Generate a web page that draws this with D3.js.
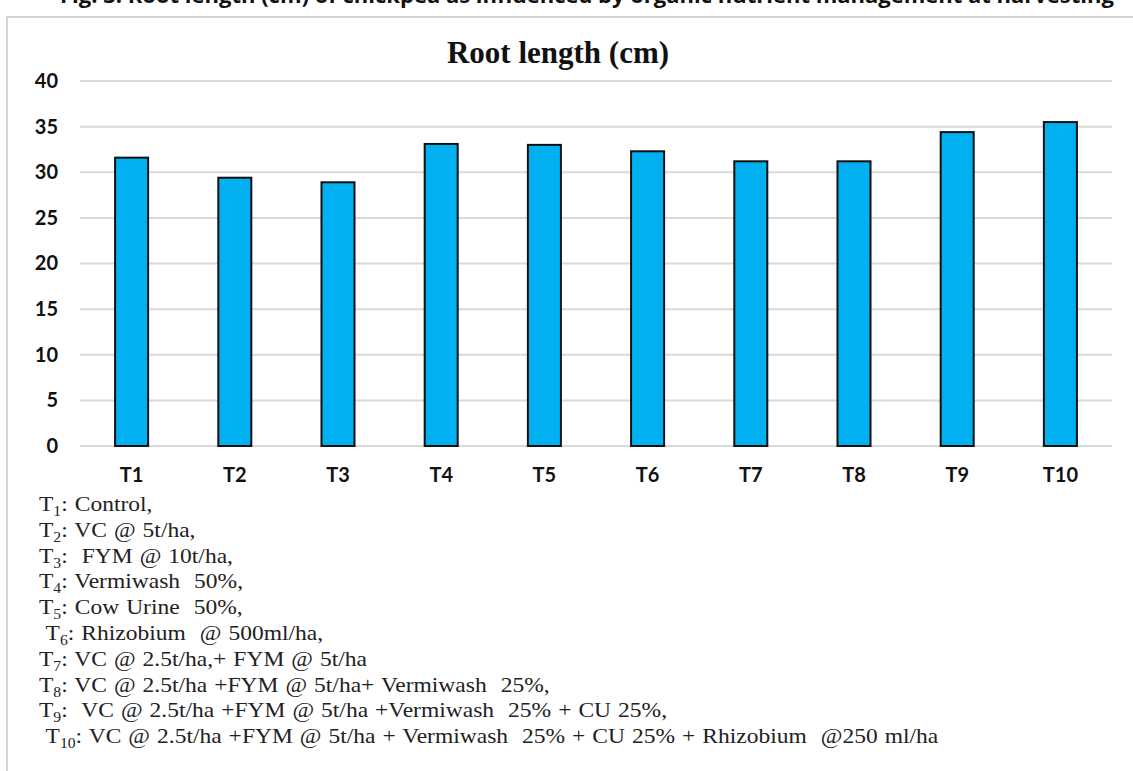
<!DOCTYPE html>
<html>
<head>
<meta charset="utf-8">
<script src="https://cdn.jsdelivr.net/npm/d3@7"></script>
<style>
  html, body { margin: 0; padding: 0; background: #fff; }
  svg { display: block; }
  text { white-space: pre; }
</style>
</head>
<body>
<svg id="chart" width="1133" height="771"></svg>
<script>
// Treatments and their mean root length (cm)
const categories = ["T1", "T2", "T3", "T4", "T5", "T6", "T7", "T8", "T9", "T10"];
const rootLength = [31.6, 29.4, 28.9, 33.1, 33.0, 32.3, 31.2, 31.2, 34.4, 35.5];
const yTicks = [0, 5, 10, 15, 20, 25, 30, 35, 40];

// Treatment key printed under the chart: prefix, subscript, description
const keyPrefix = ["T", "T", "T", "T", "T", " T", "T", "T", "T", " T"];
const keySub = ["1", "2", "3", "4", "5", "6", "7", "8", "9", "10"];
const keyText = [
  ": Control,",
  ": VC @ 5t/ha,",
  ":  FYM @ 10t/ha,",
  ": Vermiwash  50%,",
  ": Cow Urine  50%,",
  ": Rhizobium  @ 500ml/ha,",
  ": VC @ 2.5t/ha,+ FYM @ 5t/ha",
  ": VC @ 2.5t/ha +FYM @ 5t/ha+ Vermiwash  25%,",
  ":  VC @ 2.5t/ha +FYM @ 5t/ha +Vermiwash  25% + CU 25%,",
  ": VC @ 2.5t/ha +FYM @ 5t/ha + Vermiwash  25% + CU 25% + Rhizobium  @250 ml/ha"
];

const caption = "Fig. 3: Root length (cm) of chickpea as influenced by organic nutrient management at harvesting";

const svg = d3.select("#chart");

// Figure caption running off the top edge
svg.append("text")
  .attr("x", 60).attr("y", 3)
  .attr("font-family", "'Open Sans', sans-serif")
  .attr("font-weight", "bold")
  .attr("font-size", 22)
  .attr("fill", "#111")
  .text(caption);

// Light frame around the chart area
svg.append("path")
  .attr("d", "M7,771 V17 H1133")
  .attr("fill", "none")
  .attr("stroke", "#d4d4d4")
  .attr("stroke-width", 2);

const plot = { left: 80, right: 1112, top: 81, bottom: 446 };

const x = d3.scaleBand()
  .domain(categories)
  .range([plot.left, plot.right])
  .paddingInner(0.68)
  .paddingOuter(0.34);

const y = d3.scaleLinear()
  .domain([0, 40])
  .range([plot.bottom, plot.top]);

// Title
svg.append("text")
  .attr("x", 558).attr("y", 63)
  .attr("text-anchor", "middle")
  .attr("font-family", "'Liberation Serif', 'Times New Roman', serif")
  .attr("font-weight", "bold")
  .attr("font-size", 31)
  .attr("fill", "#111")
  .text("Root length (cm)");

// Horizontal gridlines
svg.append("g")
  .selectAll("line")
  .data(yTicks)
  .join("line")
  .attr("x1", plot.left).attr("x2", plot.right)
  .attr("y1", d => y(d)).attr("y2", d => y(d))
  .attr("stroke", "#d9d9d9")
  .attr("stroke-width", 2);

// Y axis labels
const yAxis = svg.append("g")
  .attr("transform", `translate(${plot.left},0)`)
  .call(d3.axisLeft(y).tickValues(yTicks).tickSize(0).tickPadding(22));
yAxis.select(".domain").remove();
yAxis.selectAll("text")
  .attr("font-family", "Lato, 'Open Sans', sans-serif")
  .attr("font-weight", "bold")
  .attr("font-size", 20)
  .attr("fill", "#111");

// X axis labels
const xAxis = svg.append("g")
  .attr("transform", `translate(0,${plot.bottom})`)
  .call(d3.axisBottom(x).tickSize(0).tickPadding(22));
xAxis.select(".domain").remove();
xAxis.selectAll("text")
  .attr("font-family", "Lato, 'Open Sans', sans-serif")
  .attr("font-weight", "bold")
  .attr("font-size", 20)
  .attr("fill", "#111");

// Bars
svg.append("g")
  .selectAll("rect")
  .data(categories.map((c, i) => ({ c, v: rootLength[i] })))
  .join("rect")
  .attr("x", d => x(d.c))
  .attr("width", x.bandwidth())
  .attr("y", d => y(d.v))
  .attr("height", d => y(0) - y(d.v))
  .attr("fill", "#00b0f0")
  .attr("stroke", "#111")
  .attr("stroke-width", 2);

// Treatment key (typeset slightly wide, as in the printed figure)
const keyStretch = 1.12;
const key = svg.append("g")
  .attr("transform", `scale(${keyStretch},1)`)
  .attr("font-family", "'Liberation Serif', 'Times New Roman', serif")
  .attr("font-size", 21)
  .attr("word-spacing", 1)
  .attr("fill", "#222");

key.selectAll("text")
  .data(keyText.map((t, i) => ({ p: keyPrefix[i], s: keySub[i], t, i })))
  .join("text")
  .attr("x", 39 / keyStretch)
  .attr("y", d => 511 + d.i * 25.8)
  .each(function (d) {
    const t = d3.select(this);
    t.append("tspan").text(d.p);
    t.append("tspan").attr("font-size", 14).attr("dy", 5).text(d.s);
    t.append("tspan").attr("dy", -5).text(d.t);
  });
</script>
</body>
</html>
